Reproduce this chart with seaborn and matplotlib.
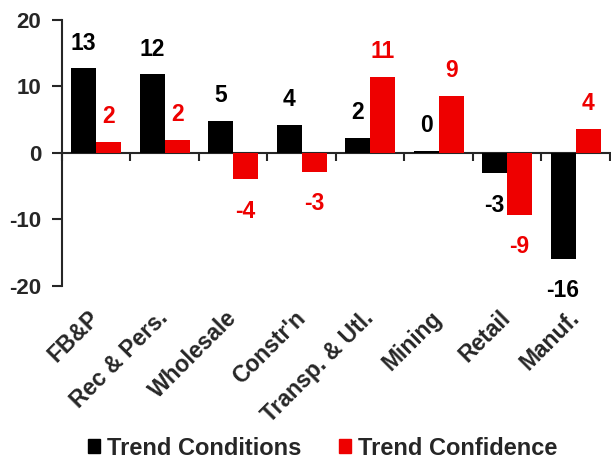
import numpy as np
import pandas as pd
import matplotlib
matplotlib.use("Agg")
import matplotlib.pyplot as plt
import seaborn as sns

# Sector sentiment: trend in conditions vs. trend in confidence
sectors = ["FB&P", "Rec & Pers.", "Wholesale", "Constr'n",
           "Transp. & Utl.", "Mining", "Retail", "Manuf."]
trend_conditions = [12.7, 11.8, 4.8, 4.2, 2.2, 0.3, -3.1, -16.0]
trend_confidence = [1.6, 1.9, -4.0, -2.9, 11.4, 8.6, -9.3, 3.6]
series_names = ["Trend Conditions", "Trend Confidence"]
y_ticks = [-20, -10, 0, 10, 20]

BLACK = "#000000"
RED = "#EE0000"

sns.set_style("ticks")
plt.rcParams["font.family"] = ["Liberation Sans", "DejaVu Sans"]
plt.rcParams["font.weight"] = "bold"
plt.rcParams["axes.unicode_minus"] = False

df = pd.DataFrame({
    "sector": sectors * 2,
    "value": trend_conditions + trend_confidence,
    "series": [series_names[0]] * len(sectors) + [series_names[1]] * len(sectors),
})

fig = plt.figure(figsize=(6.11, 4.61), dpi=100)
ax = fig.add_axes([0.1015, 0.3803, 0.8965, 0.5763])

sns.barplot(data=df, x="sector", y="value", hue="series",
            palette=[BLACK, RED], saturation=1, width=0.73,
            dodge=True, errorbar=None, legend=False, ax=ax,
            linewidth=0)

ax.set_xlim(-0.5, len(sectors) - 0.5)
ax.set_ylim(-20, 20)
ax.set_yticks(y_ticks)
ax.set_xlabel("")
ax.set_ylabel("")

# value labels on every bar
for cont, col in zip(ax.containers, [BLACK, RED]):
    anns = ax.bar_label(cont, fmt="{:.0f}", padding=10, color=col,
                        fontsize=16.5, fontweight="bold")
    for ann, bar in zip(anns, cont):
        if bar.get_height() < 0:
            ann.xyann = (0, -14.5)

# spines
for side in ["top", "right", "bottom"]:
    ax.spines[side].set_visible(False)
ax.spines["left"].set_linewidth(1.5)
ax.tick_params(axis="y", direction="out", length=7, width=1.5,
               pad=8, labelsize=16)
ax.tick_params(axis="x", length=0, pad=21, labelsize=16.5)
for lbl in ax.get_xticklabels():
    lbl.set_rotation(45)
    lbl.set_ha("right")
    lbl.set_va("center")
    lbl.set_rotation_mode("anchor")
    lbl.set_fontweight("bold")
for lbl in ax.get_yticklabels():
    lbl.set_fontweight("bold")

# zero axis with category separator ticks
zero_ax = ax.secondary_xaxis(0, transform=ax.transData)
zero_ax.set_xticks(np.arange(-0.5, len(sectors), 1.0))
zero_ax.set_xticklabels([])
zero_ax.tick_params(direction="out", length=5.5, width=1.5)
zero_ax.spines["bottom"].set_linewidth(1.5)
for side in ["top", "left", "right"]:
    zero_ax.spines[side].set_visible(False)

# legend
handles = [plt.Rectangle((0, 0), 1, 1, color=BLACK),
           plt.Rectangle((0, 0), 1, 1, color=RED)]
fig.legend(handles, series_names, loc="center",
           bbox_to_anchor=(323 / 611, 13 / 461), ncol=2, frameon=False,
           prop={"size": 17, "weight": "bold"},
           handlelength=0.5, handleheight=0.5, handletextpad=0.3,
           columnspacing=1.6, borderaxespad=0)

fig.savefig("out.png", dpi=100)
